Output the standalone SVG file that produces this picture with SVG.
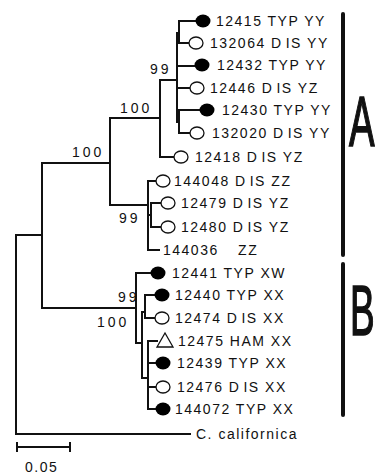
<svg xmlns="http://www.w3.org/2000/svg" width="375" height="475" viewBox="0 0 375 475">
<defs>
<style>
.br{fill:none;stroke:#111;stroke-width:2;stroke-linecap:square}
.lbl{font-family:"Liberation Sans",Arial,sans-serif;font-size:14px;letter-spacing:1.5px;fill:#111}
.sup{font-family:"Liberation Sans",Arial,sans-serif;font-size:14px;letter-spacing:3px;fill:#111}
.f{fill:#000}
.o{fill:#fff;stroke:#111;stroke-width:1.3}
.bar{stroke:#111;stroke-width:4;stroke-linecap:round}
.big{font-family:"Liberation Sans",Arial,sans-serif;font-size:71px;fill:#111;stroke:#111;stroke-width:1.6}
</style>
</defs>
<rect width="375" height="475" fill="#fff"/>
<g id="connectors" class="br">
<path d="M16,235 V434 H190 M16,235 H42 M42,163 V308 M42,163 H110 M42,308 H136"/>
<path d="M110,118 V205 M110,118 H160 M160,80 V157 H173 M160,80 H177"/>
<path d="M177,33 V122 M179,21 V43 M177,33 H179 M179,21 H195 M179,43 H188 M177,66 H194 M177,88 H190 M179,110 V133 M177,122 H179 M179,110 H199 M179,133 H190"/>
<path d="M110,205 H148 M148,181 V250 M148,181 H156 M148,250 H159 M148,215 H151 M151,203 V227 M151,203 H161 M151,227 H161"/>
<path d="M136,273 V343 M136,273 H150 M136,343 H142 M142,312 V378 M142,312 H145 M145,295 V318 M145,295 H154 M145,318 H155 M142,378 H148 M148,341 V409 M148,341 H157 M148,363 H155 M148,387 H156 M148,409 H155"/>
<path d="M17,447 H70 M17,443 V451 M70,443 V451"/>
</g>
<g id="support">
<text class="sup" x="150" y="74">99</text>
<text class="sup" x="120" y="113">100</text>
<text class="sup" x="72" y="157">100</text>
<text class="sup" x="119" y="223">99</text>
<text class="sup" x="118" y="302">99</text>
<text class="sup" x="97" y="327">100</text>
</g>
<g id="n12415"><ellipse class="f" cx="203" cy="21" rx="7.5" ry="6.5"/><text class="lbl" x="216" y="26">12415 TYP YY</text></g>
<g id="n132064"><ellipse class="o" cx="196" cy="43" rx="7" ry="6"/><text class="lbl" x="210" y="48">132064 D<tspan dx="3">IS</tspan> YY</text></g>
<g id="n12432"><ellipse class="f" cx="202" cy="65" rx="7.5" ry="6.5"/><text class="lbl" x="217" y="70">12432 TYP YY</text></g>
<g id="n12446"><ellipse class="o" cx="197" cy="88" rx="7" ry="6"/><text class="lbl" x="210" y="93">12446 D<tspan dx="3">IS</tspan> YZ</text></g>
<g id="n12430"><ellipse class="f" cx="207" cy="110" rx="7.5" ry="6.5"/><text class="lbl" x="222" y="115">12430 TYP YY</text></g>
<g id="n132020"><ellipse class="o" cx="197" cy="133" rx="7" ry="6"/><text class="lbl" x="212" y="138">132020 D<tspan dx="3">IS</tspan> YY</text></g>
<g id="n12418"><ellipse class="o" cx="181" cy="157" rx="7" ry="6"/><text class="lbl" x="195" y="162">12418 D<tspan dx="3">IS</tspan> YZ</text></g>
<g id="n144048"><ellipse class="o" cx="163" cy="181" rx="7" ry="6"/><text class="lbl" x="174" y="186">144048 D<tspan dx="3">IS</tspan> ZZ</text></g>
<g id="n12479"><ellipse class="o" cx="168" cy="203" rx="7" ry="6"/><text class="lbl" x="181" y="208">12479 D<tspan dx="3">IS</tspan> YZ</text></g>
<g id="n12480"><ellipse class="o" cx="168" cy="227" rx="7" ry="6"/><text class="lbl" x="181" y="232">12480 D<tspan dx="3">IS</tspan> YZ</text></g>
<g id="n144036"><text class="lbl" x="163" y="255">144036 <tspan dx="14">ZZ</tspan></text></g>
<g id="n12441"><ellipse class="f" cx="158" cy="273" rx="7.5" ry="6.5"/><text class="lbl" x="172" y="278">12441 TYP XW</text></g>
<g id="n12440"><ellipse class="f" cx="162" cy="295" rx="7.5" ry="6.5"/><text class="lbl" x="175" y="300">12440 TYP XX</text></g>
<g id="n12474"><ellipse class="o" cx="162" cy="318" rx="7" ry="6"/><text class="lbl" x="175" y="323">12474 D<tspan dx="3">IS</tspan> XX</text></g>
<g id="n12475"><polygon class="o" points="165,333 157,347 173,347"/><text class="lbl" x="178" y="346">12475 HAM XX</text></g>
<g id="n12439"><ellipse class="f" cx="163" cy="363" rx="7.5" ry="6.5"/><text class="lbl" x="177" y="368">12439 TYP XX</text></g>
<g id="n12476"><ellipse class="o" cx="163" cy="387" rx="7" ry="6"/><text class="lbl" x="177" y="392">12476 D<tspan dx="3">IS</tspan> XX</text></g>
<g id="n144072"><ellipse class="f" cx="163" cy="409" rx="7.5" ry="6.5"/><text class="lbl" x="175" y="414">144072 TYP XX</text></g>
<g id="ncal"><text class="lbl" x="196" y="439">C. californica</text></g>
<g id="scale"><text class="lbl" x="25" y="472">0.05</text></g>
<g id="cladeA"><line class="bar" x1="343" y1="14" x2="343" y2="255"/><text class="big" transform="translate(349,146) scale(0.54,1)">A</text></g>
<g id="cladeB"><line class="bar" x1="343" y1="264" x2="343" y2="415"/><text class="big" transform="translate(350,335) scale(0.52,1)">B</text></g>
</svg>
